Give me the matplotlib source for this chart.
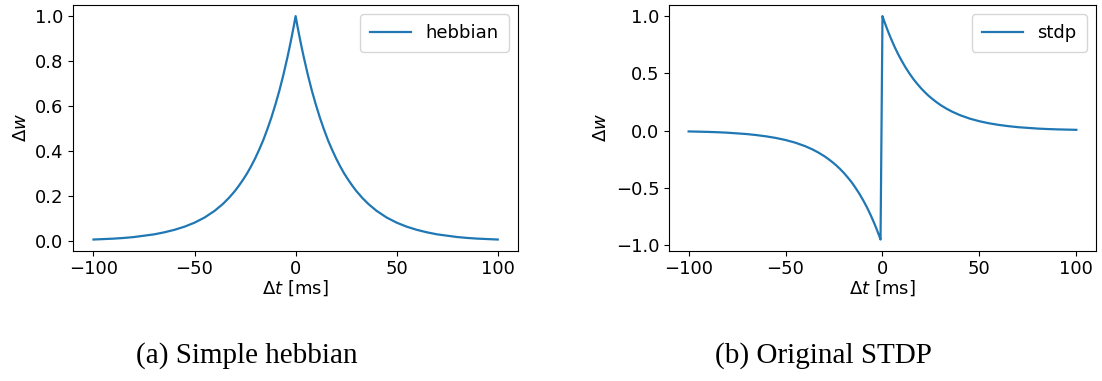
import matplotlib
matplotlib.use("Agg")
import matplotlib.pyplot as plt

# Delta t samples [ms] and weight change
dt_hebb = [-100, -95, -90, -85, -80, -75, -70, -65, -60, -55, -50, -45, -40, -36,
           -33, -30, -28, -26, -24, -22, -20, -18, -16, -14, -12, -10, -8, -6,
           -4, -3, -2, -1, 0, 1, 2, 3, 4, 6, 8, 10, 12, 14, 16, 18, 20, 22, 24,
           26, 28, 30, 33, 36, 40, 45, 50, 55, 60, 65, 70, 75, 80, 85, 90, 95, 100]
dw_hebb = [0.007, 0.009, 0.011, 0.014, 0.018, 0.024, 0.030, 0.039, 0.050, 0.064,
           0.082, 0.105, 0.135, 0.165, 0.192, 0.223, 0.247, 0.273, 0.301, 0.333,
           0.368, 0.407, 0.449, 0.497, 0.549, 0.607, 0.670, 0.741, 0.819, 0.861,
           0.905, 0.951, 1.000, 0.951, 0.905, 0.861, 0.819, 0.741, 0.670, 0.607,
           0.549, 0.497, 0.449, 0.407, 0.368, 0.333, 0.301, 0.273, 0.247, 0.223,
           0.192, 0.165, 0.135, 0.105, 0.082, 0.064, 0.050, 0.039, 0.030, 0.024,
           0.018, 0.014, 0.011, 0.009, 0.007]

dt_stdp = [-100, -95, -90, -85, -80, -75, -70, -65, -60, -55, -50, -45, -40, -36,
           -33, -30, -28, -26, -24, -22, -20, -18, -16, -14, -12, -10, -8, -6,
           -4, -3, -2, -1, 0, 1, 2, 3, 4, 6, 8, 10, 12, 14, 16, 18, 20, 22, 24,
           26, 28, 30, 33, 36, 40, 45, 50, 55, 60, 65, 70, 75, 80, 85, 90, 95, 100]
dw_stdp = [-0.007, -0.009, -0.011, -0.014, -0.018, -0.024, -0.030, -0.039, -0.050,
           -0.064, -0.082, -0.105, -0.135, -0.165, -0.192, -0.223, -0.247, -0.273,
           -0.301, -0.333, -0.368, -0.407, -0.449, -0.497, -0.549, -0.607, -0.670,
           -0.741, -0.819, -0.861, -0.905, -0.951, 1.000, 0.951, 0.905, 0.861,
           0.819, 0.741, 0.670, 0.607, 0.549, 0.497, 0.449, 0.407, 0.368, 0.333,
           0.301, 0.273, 0.247, 0.223, 0.192, 0.165, 0.135, 0.105, 0.082, 0.064,
           0.050, 0.039, 0.030, 0.024, 0.018, 0.014, 0.011, 0.009, 0.007]

captions = ["(a) Simple hebbian", "(b) Original STDP"]

plt.rcParams["font.size"] = 13

fig = plt.figure(figsize=(11.02, 3.81), dpi=100)
ax1 = fig.add_axes([0.0665, 0.342, 0.4035, 0.645])
ax2 = fig.add_axes([0.6073, 0.342, 0.387, 0.645])

ax1.plot(dt_hebb, dw_hebb, lw=1.6, label="hebbian")
ax2.plot(dt_stdp, dw_stdp, lw=1.6, label="stdp")

for ax in (ax1, ax2):
    ax.set_xlabel(r"$\Delta t$ [ms]", labelpad=0)
    ax.set_ylabel(r"$\Delta w$")
    ax.set_xticks([-100, -50, 0, 50, 100])
    ax.legend(loc="upper right", handlelength=2.3, borderpad=0.55)

ax1.set_yticks([0.0, 0.2, 0.4, 0.6, 0.8, 1.0])
ax2.set_yticks([-1.0, -0.5, 0.0, 0.5, 1.0])

fig.text(0.224, 0.068, captions[0], ha="center", va="center",
         family="Liberation Serif", fontsize=21)
fig.text(0.747, 0.068, captions[1], ha="center", va="center",
         family="Liberation Serif", fontsize=21)

fig.savefig("out.png", dpi=100)
